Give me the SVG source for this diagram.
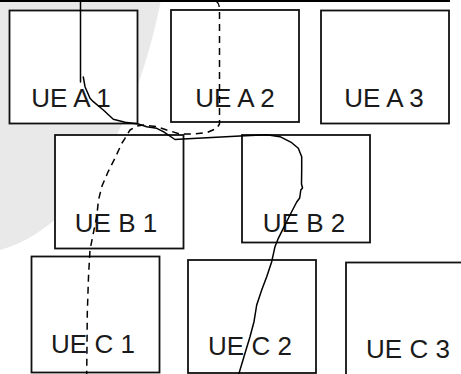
<svg xmlns="http://www.w3.org/2000/svg" width="461" height="374" viewBox="0 0 461 374">
  <style>
    .box { fill: #ffffff; stroke: #111111; stroke-width: 1.8; }
    .lbl { font-family: "Liberation Sans", Arial, sans-serif; font-size: 26px; fill: #1a1a1a; text-anchor: middle; }
    .solid { fill: none; stroke: #000000; stroke-width: 1.5; stroke-linejoin: round; stroke-linecap: round; }
    .dash { fill: none; stroke: #000000; stroke-width: 1.5; stroke-dasharray: 7 5; stroke-linejoin: round; }
  </style>
  <rect x="0" y="0" width="461" height="374" fill="#ffffff"/>
  <path id="coverage" d="M0,0 H161 C141,100 92,224 0,250 Z" fill="#e9e9e9"/>
  <line id="top-edge" x1="0" y1="1" x2="450" y2="1" stroke="#000000" stroke-width="2"/>

  <g id="ue-a1"><rect class="box" x="9.5" y="10.5" width="128" height="113"/><text class="lbl" x="71" y="107">UE A 1</text></g>
  <g id="ue-a2"><rect class="box" x="171" y="10" width="128" height="112"/><text class="lbl" x="235" y="107">UE A 2</text></g>
  <g id="ue-a3"><rect class="box" x="321" y="10.5" width="128" height="113"/><text class="lbl" x="384" y="107">UE A 3</text></g>
  <g id="ue-b1"><rect class="box" x="55" y="135" width="128.5" height="113.5"/><text class="lbl" x="116" y="232">UE B 1</text></g>
  <g id="ue-b2"><rect class="box" x="242" y="135" width="128" height="107.5"/><text class="lbl" x="304" y="232">UE B 2</text></g>
  <g id="ue-c1"><rect class="box" x="31.5" y="256.5" width="128" height="116"/><text class="lbl" x="93" y="353">UE C 1</text></g>
  <g id="ue-c2"><rect class="box" x="188" y="260" width="128" height="113"/><text class="lbl" x="250" y="355">UE C 2</text></g>
  <g id="ue-c3"><rect class="box" x="346" y="262.5" width="128" height="120"/><text class="lbl" x="408" y="358">UE C 3</text></g>

  <g id="connectors">
    <path class="solid" d="M80.5,0 V82"/>
    <path class="solid" d="M83.3,77 L85,86.7 L90,98.3 L93.3,101.7 L103.3,110 L113.3,119.3 L125,122.3 L138.3,124 L146.7,126.7 L156.7,128.3 L163.3,131.7 L175,139.5 L183.3,139 L240,136 L266.7,134.7 L280,136.7 L291.7,142.7 L298.3,148.3 L301.7,156.7 L301.7,170 L301.5,184 L302.5,188 L300.8,190 L299.7,198 L296.7,202 L290,215 L283.3,228.3 L278.3,238.3 L275,246.7 L271.7,261.7 L266.7,276.7 L261.7,290 L256.7,305 L254,321.7 L250,336.7 L245,353.3 L238.5,375"/>
    <path class="dash" d="M216,1 Q219,3 219.5,8 L219.5,124 L216.7,128.3 L206.7,132.7 L193.3,134 L180,134 L166.7,130 L156.7,126.7 L143.3,125 L136.7,126 L130,130 L125,138.3 L122,143 L115,158 L108,172 L102,186 L98.5,200 L96.7,216.7 L93.3,233.3 L90,250 L88.5,276.7 L87.3,313 L86.7,374"/>
  </g>
</svg>
